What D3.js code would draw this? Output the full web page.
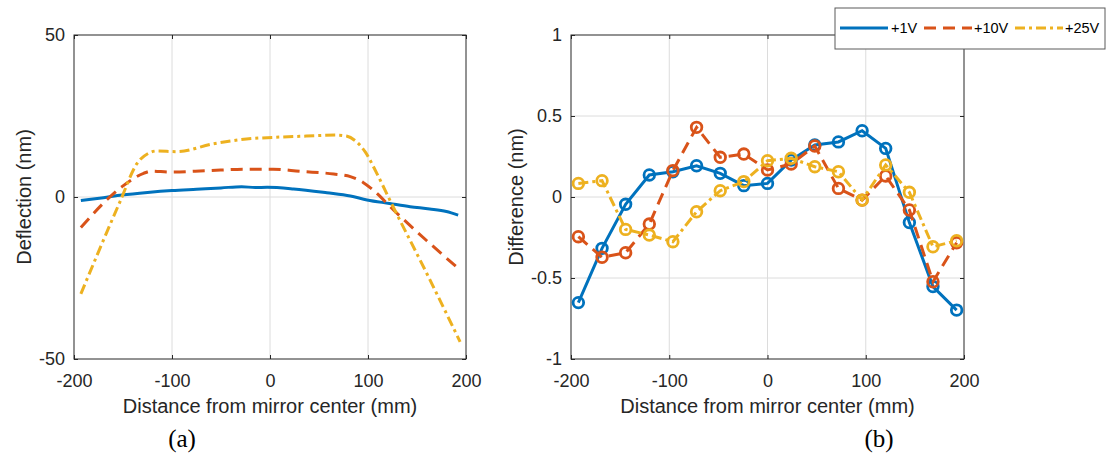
<!DOCTYPE html>
<html>
<head>
<meta charset="utf-8">
<script src="https://cdn.jsdelivr.net/npm/d3@7/dist/d3.min.js"></script>
<style>
  html, body { margin: 0; padding: 0; background: #fff; }
  svg { display: block; }
  text { font-family: "Liberation Sans", Arial, sans-serif; fill: #262626; }
  .cap { font-family: "Liberation Serif", "Times New Roman", serif; fill: #000; }
</style>
</head>
<body>
<svg id="chart" width="1111" height="456"></svg>
<script>
// ---- (a) deflection profiles along the mirror ----
const deflX1V  = [-193, -170, -151, -125, -100, -75, -50, -29, -15, -3, 24, 58, 82, 99, 122, 143, 163, 180, 192];
const deflY1V  = [-1.1, -0.2, 0.6, 1.4, 2.0, 2.4, 2.8, 3.2, 2.9, 3.0, 2.5, 1.3, 0.3, -0.9, -2.0, -3.0, -3.7, -4.5, -5.6];
const deflX10V = [-193, -151, -129, -121, -102, -65, -24, 3, 31, 65, 82, 95, 105, 126, 160, 194];
const deflY10V = [-9.4, 3.2, 7.3, 8.0, 7.7, 8.1, 8.6, 8.6, 7.9, 7.1, 6.3, 4.5, 2.2, -4.0, -13.5, -22.5];
const deflX25V = [-193, -153, -136, -124, -116, -95, -58, -24, 3, 37, 68, 78, 88, 97, 109, 123, 160, 194];
const deflY25V = [-29.9, -1.4, 10.2, 13.5, 14.2, 14.0, 16.4, 17.9, 18.4, 18.8, 19.1, 18.8, 17.1, 14.0, 7.3, -1.4, -23.6, -44.7];

// ---- (b) difference at the measurement points ----
const diffX    = [-192.5, -168.4, -144.4, -120.3, -96.3, -72.2, -48.1, -24.1, 0, 24.1, 48.1, 72.2, 96.3, 120.3, 144.4, 168.4, 192.5];
const diff1V   = [-0.652, -0.317, -0.045, 0.136, 0.156, 0.193, 0.146, 0.070, 0.084, 0.228, 0.321, 0.340, 0.409, 0.300, -0.158, -0.553, -0.698];
const diff10V  = [-0.245, -0.372, -0.344, -0.167, 0.163, 0.430, 0.245, 0.265, 0.167, 0.204, 0.315, 0.053, -0.019, 0.130, -0.080, -0.523, -0.282];
const diff25V  = [0.084, 0.101, -0.200, -0.235, -0.276, -0.091, 0.039, 0.095, 0.224, 0.239, 0.187, 0.156, -0.019, 0.198, 0.029, -0.307, -0.270];

const seriesNames = ["+1V", "+10V", "+25V"];
const xTicks  = [-200, -100, 0, 100, 200];
const yTicksA = [-50, 0, 50];
const yTicksB = [-1, -0.5, 0, 0.5, 1];
const xLabel  = "Distance from mirror center (mm)";
const yLabelA = "Deflection (nm)";
const yLabelB = "Difference (nm)";

const colors = ["#0072BD", "#D95319", "#EDB120"];
const dashes = [null, "12,7", "10,4,3,4"];

const svg = d3.select("#chart");

function panel(opts) {
  const { x, y, xTicks, yTicks, xGrid, yGrid, xLabel, yLabel, yLabelX, caption, captionX } = opts;
  const [x0, x1] = x.range();
  const [y0, y1] = y.range(); // y0 bottom, y1 top
  const g = svg.append("g");

  // grid
  g.append("g").selectAll("line").data(xGrid).join("line")
    .attr("x1", d => x(d)).attr("x2", d => x(d))
    .attr("y1", y1).attr("y2", y0)
    .attr("stroke", "#dcdcdc").attr("stroke-width", 1);
  g.append("g").selectAll("line").data(yGrid).join("line")
    .attr("x1", x0).attr("x2", x1)
    .attr("y1", d => y(d)).attr("y2", d => y(d))
    .attr("stroke", "#dcdcdc").attr("stroke-width", 1);

  // axes (ticks inward on all sides)
  const fmt = d => String(d);
  const style = sel => {
    sel.select(".domain").remove();
    sel.selectAll(".tick line").attr("stroke", "#262626");
    sel.selectAll(".tick text").attr("fill", "#262626").style("font-size", "18px")
      .style("font-family", '"Liberation Sans", Arial, sans-serif');
  };
  g.append("g").attr("transform", `translate(0,${y0})`)
    .call(d3.axisBottom(x).tickValues(xTicks).tickFormat(fmt).tickSize(-4).tickPadding(15))
    .call(style);
  g.append("g").attr("transform", `translate(0,${y1})`)
    .call(d3.axisTop(x).tickValues(xTicks).tickFormat("").tickSize(-4))
    .call(style);
  g.append("g").attr("transform", `translate(${x0},0)`)
    .call(d3.axisLeft(y).tickValues(yTicks).tickFormat(fmt).tickSize(-4).tickPadding(9))
    .call(style);
  g.append("g").attr("transform", `translate(${x1},0)`)
    .call(d3.axisRight(y).tickValues(yTicks).tickFormat("").tickSize(-4))
    .call(style);

  // box
  g.append("rect")
    .attr("x", x0).attr("y", y1).attr("width", x1 - x0).attr("height", y0 - y1)
    .attr("fill", "none").attr("stroke", "#262626").attr("stroke-width", 1);

  // labels
  g.append("text").attr("x", (x0 + x1) / 2).attr("y", 413)
    .attr("text-anchor", "middle").style("font-size", "20px").text(xLabel);
  g.append("text").attr("transform", `translate(${yLabelX},${(y0 + y1) / 2}) rotate(-90)`)
    .attr("text-anchor", "middle").attr("dy", "0.35em").style("font-size", "20px").text(yLabel);
  g.append("text").attr("class", "cap").attr("x", captionX).attr("y", 447)
    .attr("text-anchor", "middle").style("font-size", "25px").text(caption);
  return g;
}

// ---- panel (a) ----
const xA = d3.scaleLinear().domain([-200, 200]).range([74, 466]);
const yA = d3.scaleLinear().domain([-50, 50]).range([359, 35]);
const gA = panel({ x: xA, y: yA, xTicks, yTicks: yTicksA, xGrid: [-100, 0, 100], yGrid: [0],
  xLabel, yLabel: yLabelA, yLabelX: 24, caption: "(a)", captionX: 182 });

const deflSeries = [
  d3.zip(deflX1V, deflY1V),
  d3.zip(deflX10V, deflY10V),
  d3.zip(deflX25V, deflY25V)
];
const lineA = d3.line().x(d => xA(d[0])).y(d => yA(d[1])).curve(d3.curveMonotoneX);
deflSeries.forEach((s, i) => {
  gA.append("path").datum(s).attr("d", lineA)
    .attr("fill", "none").attr("stroke", colors[i]).attr("stroke-width", 3)
    .attr("stroke-dasharray", dashes[i]);
});

// ---- panel (b) ----
const xB = d3.scaleLinear().domain([-200, 200]).range([571, 964]);
const yB = d3.scaleLinear().domain([-1, 1]).range([359, 35]);
const gB = panel({ x: xB, y: yB, xTicks, yTicks: yTicksB, xGrid: [-100, 0, 100], yGrid: [-0.5, 0, 0.5],
  xLabel, yLabel: yLabelB, yLabelX: 516, caption: "(b)", captionX: 879 });

const diffSeries = [diff1V, diff10V, diff25V].map(v => d3.zip(diffX, v));
const lineB = d3.line().x(d => xB(d[0])).y(d => yB(d[1]));
diffSeries.forEach((s, i) => {
  const sg = gB.append("g");
  sg.append("path").datum(s).attr("d", lineB)
    .attr("fill", "none").attr("stroke", colors[i]).attr("stroke-width", 3)
    .attr("stroke-dasharray", dashes[i]);
  sg.selectAll("circle").data(s).join("circle")
    .attr("cx", d => xB(d[0])).attr("cy", d => yB(d[1])).attr("r", 5.3)
    .attr("fill", "none").attr("stroke", colors[i]).attr("stroke-width", 2.8);
});

// ---- legend ----
const lg = svg.append("g");
lg.append("rect").attr("x", 835).attr("y", 8).attr("width", 270).attr("height", 41)
  .attr("fill", "#fff").attr("stroke", "#5a5a5a").attr("stroke-width", 1);
const legendPos = [
  { lx: 840, tx: 891 },
  { lx: 924, tx: 974 },
  { lx: 1015, tx: 1065 }
];
seriesNames.forEach((name, i) => {
  const p = legendPos[i];
  lg.append("line").attr("x1", p.lx).attr("x2", p.lx + 48).attr("y1", 28).attr("y2", 28)
    .attr("stroke", colors[i]).attr("stroke-width", 3).attr("stroke-dasharray", dashes[i]);
  lg.append("text").attr("x", p.tx).attr("y", 33).style("font-size", "14.5px")
    .style("fill", "#000").text(name);
});
</script>
</body>
</html>
